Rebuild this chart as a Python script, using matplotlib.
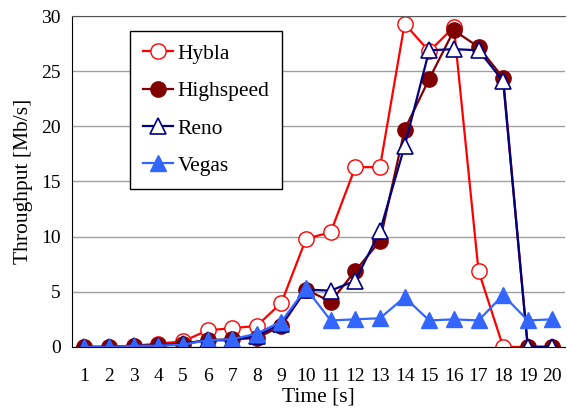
import matplotlib
matplotlib.use("Agg")
import matplotlib.pyplot as plt
import numpy as np

plt.rcParams['font.family'] = ['Liberation Serif', 'DejaVu Serif']

time_s = np.arange(1, 21)
hybla = [0, 0, 0.1, 0.3, 0.5, 1.5, 1.7, 1.9, 4.0, 9.8, 10.4, 16.3, 16.3, 29.3, 26.8, 29.0, 6.9, 0, 0, 0]
highspeed = [0, 0, 0.1, 0.2, 0.3, 0.6, 0.7, 0.8, 1.9, 5.2, 4.1, 6.9, 9.6, 19.7, 24.3, 28.7, 27.2, 24.4, 0, 0]
reno = [0, 0, 0.1, 0.1, 0.3, 0.6, 0.6, 1.0, 2.1, 5.2, 5.1, 6.0, 10.5, 18.2, 26.9, 27.0, 26.9, 24.1, 0, 0]
vegas = [0, 0, 0.1, 0.1, 0.2, 0.6, 0.7, 1.2, 2.3, 5.3, 2.4, 2.5, 2.6, 4.5, 2.4, 2.5, 2.4, 4.7, 2.4, 2.5]

fig = plt.figure(figsize=(5.67, 4.12), dpi=100)
ax = fig.add_axes([0.127, 0.158, 0.869, 0.803])

ms = 11
lw = 1.6
ax.plot(time_s, hybla, color='#ff0000', lw=lw, marker='o', ms=ms, mfc='white', mec='#ff0000', mew=1.0, label='Hybla')
ax.plot(time_s, highspeed, color='#800000', lw=lw, marker='o', ms=ms, mfc='#800000', mec='#800000', label='Highspeed')
ax.plot(time_s, reno, color='#000080', lw=lw, marker='^', ms=ms, mfc='white', mec='#000080', mew=1.2, label='Reno')
ax.plot(time_s, vegas, color='#3366ff', lw=lw, marker='^', ms=ms, mfc='#3366ff', mec='#3366ff', label='Vegas')

ax.set_xlim(0.5, 20.5)
ax.set_ylim(0, 30)
ax.set_xticks(time_s)
ax.set_yticks([0, 5, 10, 15, 20, 25, 30])
ax.tick_params(axis='y', length=0, labelsize=14, pad=8)
ax.tick_params(axis='x', length=0, labelsize=14, pad=15)
ax.yaxis.grid(True, color='#a0a0a0', lw=1.0)
ax.set_axisbelow(True)
ax.spines['right'].set_visible(False)
ax.spines['top'].set_color('#555555')
ax.spines['left'].set_color('black')
ax.spines['bottom'].set_color('black')

ax.set_xlabel('Time [s]', fontsize=15.5, labelpad=2)
ax.set_ylabel('Throughput [Mb/s]', fontsize=15.5, labelpad=6)

leg = ax.legend(loc='upper left', bbox_to_anchor=(0.118, 0.955), borderaxespad=0,
                fontsize=15.5, handlelength=1.4, handletextpad=0.2, labelspacing=0.8,
                fancybox=False, framealpha=1, edgecolor='black', borderpad=0.6)
leg.get_frame().set_linewidth(1.0)

fig.savefig('out.png', dpi=100)
